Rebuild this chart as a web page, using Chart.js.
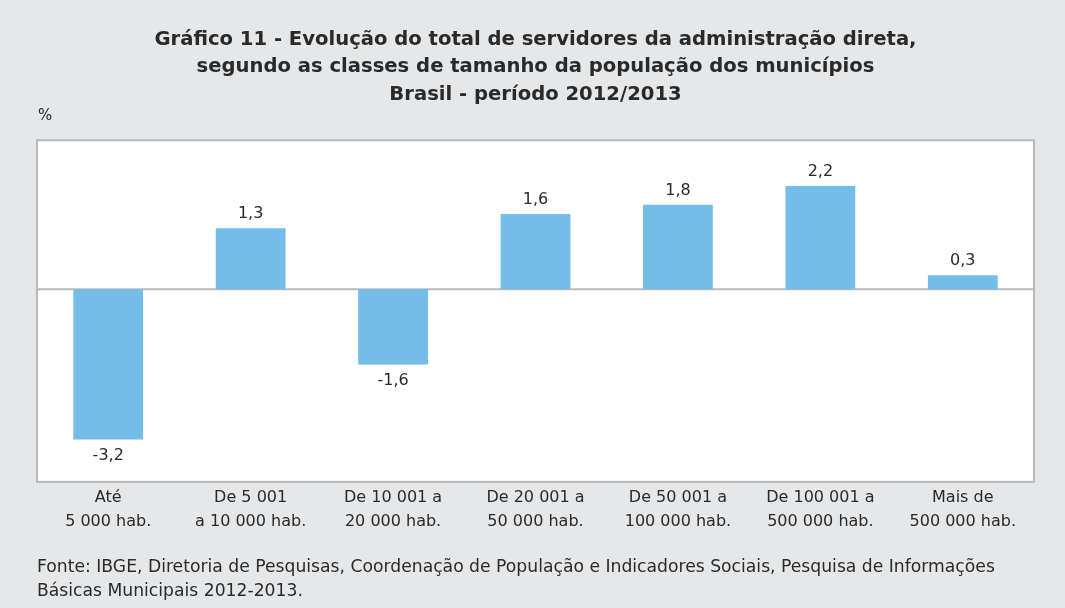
<!DOCTYPE html>
<html>
<head>
<meta charset="utf-8">
<script src="https://cdn.jsdelivr.net/npm/chart.js@4"></script>
<style>
  html, body { margin: 0; padding: 0; background: #e6e7e8; }
  #wrap { width: 1065px; height: 608px; }
</style>
</head>
<body>
<div id="wrap"><canvas id="chart"></canvas></div>
<script>
// categories and values (% change 2012/2013)
var categories = [
    ['Até', '5 000 hab.'],
    ['De 5 001', 'a 10 000 hab.'],
    ['De 10 001 a', '20 000 hab.'],
    ['De 20 001 a', '50 000 hab.'],
    ['De 50 001 a', '100 000 hab.'],
    ['De 100 001 a', '500 000 hab.'],
    ['Mais de', '500 000 hab.']
];
var values = [-3.2, 1.3, -1.6, 1.6, 1.8, 2.2, 0.3];

var titleLines = [
    'Gráfico 11 - Evolução do total de servidores da administração direta,',
    'segundo as classes de tamanho da população dos municípios',
    'Brasil - período 2012/2013'
];
var sourceLines = [
    'Fonte: IBGE, Diretoria de Pesquisas, Coordenação de População e Indicadores Sociais, Pesquisa de Informações',
    'Básicas Municipais 2012-2013.'
];

var textColor = '#2a2a2a';
var fontFamily = '"DejaVu Sans", sans-serif';

// white plot box, border, zero line and the % unit
var plotBox = {
    id: 'plotBox',
    beforeDatasetsDraw: function (chart) {
        var ctx = chart.ctx;
        var a = chart.chartArea;
        var y0 = chart.scales.y.getPixelForValue(0);
        ctx.save();
        ctx.fillStyle = '#ffffff';
        ctx.fillRect(a.left, a.top, a.right - a.left, a.bottom - a.top);
        ctx.strokeStyle = '#b9babc';
        ctx.lineWidth = 2;
        ctx.strokeRect(a.left, a.top, a.right - a.left, a.bottom - a.top);
        ctx.beginPath();
        ctx.moveTo(a.left, y0);
        ctx.lineTo(a.right, y0);
        ctx.stroke();
        ctx.fillStyle = textColor;
        ctx.font = '15px ' + fontFamily;
        ctx.textAlign = 'left';
        ctx.textBaseline = 'middle';
        ctx.fillText('%', a.left + 1, a.top - 24);
        ctx.restore();
    }
};

// value labels above / below bars
var barLabels = {
    id: 'barLabels',
    afterDatasetsDraw: function (chart) {
        var ctx = chart.ctx;
        var meta = chart.getDatasetMeta(0);
        ctx.save();
        ctx.fillStyle = textColor;
        ctx.font = '16px ' + fontFamily;
        ctx.textAlign = 'center';
        meta.data.forEach(function (bar, i) {
            var v = values[i];
            var txt = v.toFixed(1).replace('.', ',');
            if (v >= 0) {
                ctx.textBaseline = 'bottom';
                ctx.fillText(txt, bar.x, bar.y - 6);
            } else {
                ctx.textBaseline = 'top';
                ctx.fillText(txt, bar.x, bar.y + 8);
            }
        });
        ctx.restore();
    }
};

var ctx = document.getElementById('chart').getContext('2d');
var myChart = new Chart(ctx, {
    type: 'bar',
    data: {
        labels: categories,
        datasets: [{
            data: values,
            backgroundColor: '#74bde8',
            borderWidth: 0,
            categoryPercentage: 1,
            barPercentage: 0.49
        }]
    },
    options: {
        responsive: true,
        maintainAspectRatio: false,
        animation: false,
        layout: { padding: { left: 37, right: 31, top: 0, bottom: 0 } },
        scales: {
            x: {
                grid: { display: false },
                border: { display: false },
                ticks: {
                    color: textColor,
                    font: { family: fontFamily, size: 16, lineHeight: 1.5 },
                    padding: -4,
                    maxRotation: 0
                }
            },
            y: {
                display: false,
                min: -4.1,
                max: 3.17
            }
        },
        plugins: {
            legend: { display: false },
            tooltip: { enabled: false },
            title: {
                display: true,
                text: titleLines,
                color: textColor,
                font: { family: fontFamily, size: 19.6, weight: 'bold', lineHeight: 1.4 },
                padding: { top: 26, bottom: 32 }
            },
            subtitle: {
                display: true,
                position: 'bottom',
                align: 'start',
                text: sourceLines,
                color: textColor,
                font: { family: fontFamily, size: 17.2, lineHeight: 1.4 },
                padding: { top: 26, bottom: 4 }
            }
        }
    },
    plugins: [plotBox, barLabels]
});
</script>
</body>
</html>
